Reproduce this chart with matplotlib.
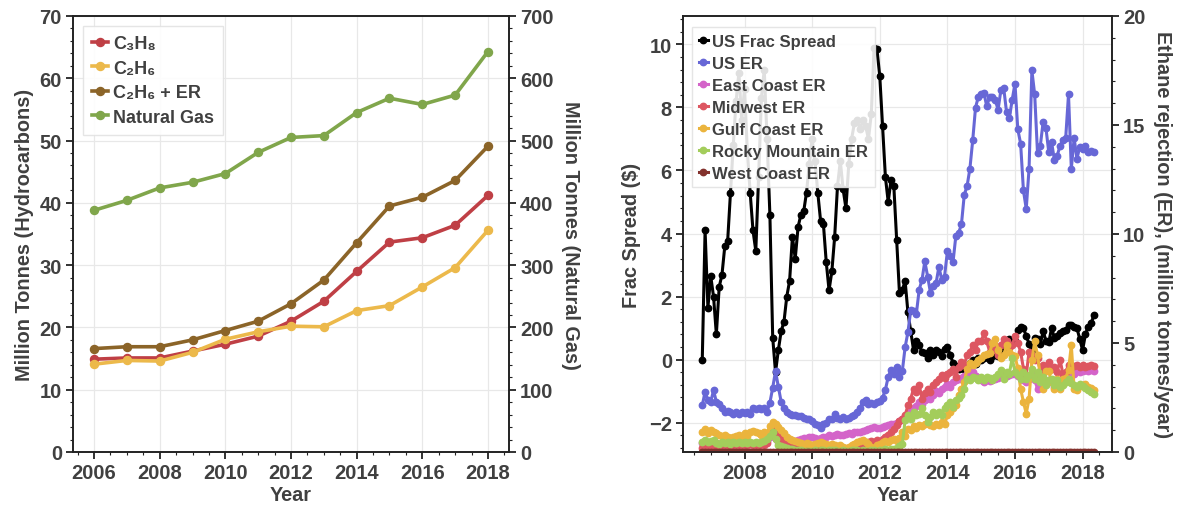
import matplotlib
matplotlib.use("Agg")
import matplotlib.pyplot as plt
from matplotlib.ticker import MultipleLocator, FuncFormatter

plt.rcParams['font.family'] = ['Liberation Sans', 'DejaVu Sans']
plt.rcParams['font.weight'] = 'bold'
TEXT = '#404040'

# ---------------- annual production (left panel) ----------------
years = [2006, 2007, 2008, 2009, 2010, 2011, 2012, 2013, 2014, 2015, 2016, 2017, 2018]
propane = [14.9, 15.1, 15.1, 16.2, 17.3, 18.6, 21.0, 24.2, 29.0, 33.7, 34.4, 36.4, 41.2]
ethane = [14.1, 14.7, 14.6, 16.0, 18.1, 19.3, 20.2, 20.1, 22.7, 23.5, 26.5, 29.6, 35.6]
ethane_er = [16.6, 16.9, 16.9, 18.0, 19.5, 21.0, 23.8, 27.6, 33.6, 39.5, 40.9, 43.6, 49.1]
natural_gas = [388, 404, 424, 433, 447, 481, 505, 508, 545, 568, 558, 573, 643]

# ---------------- monthly series, Oct 2006 - May 2018 (right panel) ----------------
first_year, first_month, n_months = 2006, 10, 140
month_pos = [first_year + (first_month - 1 + k) / 12 for k in range(n_months)]

frac_spread = [
    0.0, 4.1, 1.65,
    2.65, 2.0, 0.8, 2.3, 2.7, 3.6, 3.75, 5.3, 6.8, 8.2, 9.1, 7.6,
    8.6, 6.6, 5.3, 4.1, 3.45, 5.8, 8.3, 9.2, 7.0, 4.6, 0.7, -0.4,
    0.3, 0.9, 1.2, 2.0, 2.5, 3.9, 3.2, 4.2, 4.6, 4.7, 5.3, 6.2,
    7.0, 6.3, 5.3, 4.4, 4.3, 3.1, 2.2, 2.8, 3.9, 5.5, 6.3, 5.4,
    4.8, 6.2, 7.0, 7.5, 7.6, 7.3, 7.6, 7.4, 7.0, 7.8, 9.9, 9.85,
    9.0, 7.4, 5.8, 5.0, 5.7, 5.5, 3.8, 2.1, 2.2, 2.5, 1.5, 0.9,
    0.3, 0.6, 0.45, 0.25, 0.2, 0.05, 0.3, 0.15, 0.3, 0.25, 0.1, 0.35,
    0.4, 0.15, -0.1, -0.2, -0.3, -0.28, -0.3, -0.2, -0.1, 0.0, -0.15, 0.05,
    0.0, 0.05, 0.1, 0.0, 0.1, 0.15, 0.1, 0.2, 0.4, 0.3, 0.65, 0.55,
    0.6, 0.95, 1.05, 1.0, 0.75, 0.5, 0.3, 0.7, 0.65, 0.5, 0.9, 0.6,
    0.55, 1.0, 0.7, 0.75, 0.85, 0.9, 0.95, 1.1, 1.1, 1.05, 1.0, 0.65,
    0.3, 0.8, 1.05, 1.15, 1.4,
]

us_er = [
    2.14, 2.76, 2.37,
    2.3, 2.83, 2.3, 2.2, 2.0, 1.85, 1.9, 1.83, 1.75, 1.85, 1.75, 1.85,
    1.8, 1.85, 1.75, 2.0, 1.95, 2.0, 1.95, 2.0, 1.85, 2.25, 2.95, 3.7,
    3.0, 2.3, 2.0, 1.85, 1.75, 1.7, 1.7, 1.65, 1.65, 1.55, 1.5, 1.5,
    1.4, 1.3, 1.25, 1.1, 1.3, 1.35, 1.5, 1.5, 1.75, 1.55, 1.5, 1.6,
    1.5, 1.55, 1.65, 1.7, 1.85, 2.0, 2.3, 2.4, 2.2, 2.25, 2.2, 2.3,
    2.35, 2.5, 2.85, 3.45, 3.75, 3.6, 3.9, 3.45, 3.7, 4.8, 5.5, 6.5,
    6.45, 6.35, 7.45, 7.9, 8.75, 8.05, 7.3, 7.6, 7.75, 8.5, 7.9, 8.05,
    9.2, 9.0, 8.7, 9.9, 10.05, 10.45, 11.8, 12.2, 13.0, 14.3, 15.8, 16.3,
    16.4, 16.45, 15.85, 16.3, 16.3, 16.15, 15.7, 16.6, 16.7, 15.6, 15.3, 16.15,
    16.9, 14.8, 14.15, 12.0, 11.15, 13.0, 17.5, 16.4, 13.7, 14.05, 15.15, 14.85,
    13.75, 14.2, 13.4, 13.6, 14.05, 14.3, 14.4, 16.4, 13.0, 14.4, 13.45, 14.0,
    13.9, 14.05, 13.75, 13.8, 13.75,
]

east_coast_er = [
    0.4, 0.45, 0.4,
    0.45, 0.45, 0.4, 0.35, 0.4, 0.4, 0.4, 0.35, 0.4, 0.4, 0.4, 0.35,
    0.4, 0.4, 0.4, 0.35, 0.4, 0.4, 0.4, 0.45, 0.5, 0.7, 0.85, 0.6,
    0.45, 0.4, 0.4, 0.35, 0.4, 0.45, 0.5, 0.55, 0.6, 0.62, 0.65, 0.68,
    0.68, 0.62, 0.6, 0.65, 0.68, 0.7, 0.76, 0.72, 0.8, 0.83, 0.8, 0.8,
    0.83, 0.85, 0.83, 0.9, 0.91, 0.9, 0.95, 1.0, 1.06, 1.1, 1.14, 1.1,
    1.1, 1.15, 1.2, 1.25, 1.3, 1.3, 1.35, 1.4, 1.5, 1.6, 1.75, 1.9,
    2.0, 2.1, 2.3, 2.2, 2.4, 2.5, 2.45, 2.6, 2.8, 2.7, 2.9, 3.0,
    3.1, 3.0, 3.2, 3.3, 3.35, 3.4, 3.5, 3.6, 3.7, 3.65, 3.5, 3.4,
    3.3, 3.2, 3.3, 3.25, 3.3, 3.35, 3.4, 3.5, 3.6, 3.5, 3.55, 3.6,
    3.6, 3.5, 3.4, 3.3, 3.2, 3.35, 3.6, 3.3, 2.9, 3.0, 3.1, 3.2,
    3.3, 3.2, 3.0, 3.2, 3.3, 3.4, 3.5, 3.6, 3.5, 3.6, 3.7, 3.65,
    3.7, 3.75, 3.7, 3.75, 3.7,
]

midwest_er = [
    0.2, 0.25, 0.2,
    0.3, 0.25, 0.2, 0.25, 0.3, 0.2, 0.25, 0.2, 0.3, 0.25, 0.2, 0.3,
    0.25, 0.3, 0.35, 0.3, 0.25, 0.3, 0.35, 0.3, 0.4, 0.8, 1.14, 0.95,
    0.76, 0.6, 0.5, 0.45, 0.35, 0.3, 0.25, 0.22, 0.2, 0.2, 0.15, 0.15,
    0.15, 0.1, 0.12, 0.1, 0.15, 0.1, 0.12, 0.15, 0.1, 0.12, 0.15, 0.1,
    0.1, 0.12, 0.15, 0.2, 0.25, 0.3, 0.35, 0.4, 0.45, 0.5, 0.45, 0.55,
    0.5, 0.6, 0.7, 0.76, 0.9, 1.06, 1.22, 1.4, 1.53, 1.68, 2.14, 2.45,
    2.9, 2.76, 3.07, 2.45, 2.7, 2.9, 2.75, 3.07, 3.2, 3.37, 3.53, 3.4,
    3.6, 3.68, 3.83, 3.45, 3.9, 4.14, 4.0, 4.45, 4.6, 4.9, 4.7, 5.07,
    5.07, 5.45, 5.07, 4.6, 4.83, 4.68, 4.45, 4.9, 5.2, 5.07, 4.76, 4.9,
    5.3, 4.99, 4.6, 3.83, 3.53, 4.6, 4.45, 4.22, 4.3, 3.7, 4.0, 3.9,
    4.14, 3.83, 3.9, 3.68, 4.22, 3.6, 3.68, 3.98, 3.9, 3.95, 3.98, 3.9,
    3.98, 3.9, 3.95, 3.98, 3.95,
]

gulf_coast_er = [
    0.9, 1.05, 0.85,
    1.0, 0.9, 0.85, 0.8, 0.75, 0.8, 0.7, 0.65, 0.7, 0.75, 0.8, 0.7,
    0.85, 0.75, 0.9, 0.95, 0.9, 0.85, 0.8, 0.9, 0.85, 1.2, 1.37, 1.3,
    1.15, 1.0, 0.85, 0.7, 0.6, 0.55, 0.5, 0.45, 0.4, 0.35, 0.4, 0.35,
    0.3, 0.35, 0.4, 0.45, 0.4, 0.35, 0.3, 0.35, 0.3, 0.25, 0.3, 0.25,
    0.2, 0.25, 0.3, 0.35, 0.45, 0.5, 0.55, 0.45, 0.35, 0.25, 0.2, 0.3,
    0.35, 0.45, 0.5, 0.45, 0.55, 0.6, 0.5, 0.65, 0.9, 0.75, 1.05, 1.0,
    1.2, 1.1, 1.25, 1.2, 1.3, 1.37, 1.25, 1.2, 1.3, 1.25, 1.37, 1.3,
    1.68, 1.83, 2.0, 2.14, 2.6, 2.9, 3.22, 3.83, 4.1, 4.0, 4.07, 4.2,
    4.3, 4.45, 4.5, 4.55, 5.0, 5.2, 4.7, 4.3, 4.45, 4.9, 4.6, 4.45,
    4.4, 3.85, 2.9, 2.3, 1.76, 2.45, 4.2, 5.07, 4.45, 3.5, 2.9, 3.7,
    3.7, 3.2, 2.9, 3.35, 2.9, 3.35, 3.4, 3.75, 4.9, 2.9, 2.85, 3.05,
    3.07, 3.1, 3.0, 2.95, 2.84,
]

rocky_mountain_er = [
    0.45, 0.53, 0.45,
    0.5, 0.53, 0.4, 0.37, 0.45, 0.4, 0.45, 0.37, 0.45, 0.4, 0.45, 0.4,
    0.45, 0.4, 0.45, 0.4, 0.45, 0.4, 0.45, 0.5, 0.6, 0.75, 0.91, 0.6,
    0.3, 0.28, 0.25, 0.2, 0.15, 0.12, 0.1, 0.1, 0.08, 0.05, 0.05, 0.05,
    0.05, 0.08, 0.06, 0.1, 0.08, 0.05, 0.07, 0.1, 0.08, 0.06, 0.05, 0.08,
    0.06, 0.05, 0.08, 0.1, 0.07, 0.05, 0.08, 0.06, 0.05, 0.07, 0.08, 0.06,
    0.08, 0.1, 0.12, 0.1, 0.15, 0.12, 0.2, 0.29, 0.35, 1.45, 1.68, 1.53,
    1.83, 1.68, 1.76, 2.0, 1.68, 1.37, 1.6, 1.83, 1.68, 1.83, 1.7, 2.0,
    2.14, 2.3, 2.07, 2.37, 2.5, 2.6, 2.9, 3.37, 3.3, 3.45, 3.4, 3.3,
    3.45, 3.3, 3.45, 3.4, 3.3, 3.45, 3.6, 3.76, 3.37, 3.68, 3.6, 4.3,
    3.68, 3.53, 3.37, 3.68, 3.37, 3.53, 3.83, 3.37, 3.68, 3.22, 3.45, 3.07,
    3.3, 3.37, 3.07, 3.3, 3.0, 3.07, 3.22, 3.37, 3.15, 3.07, 3.0, 3.1,
    3.05, 2.95, 2.84, 2.75, 2.68,
]

west_coast_er = [
    0.0, 0.0, 0.0,
    0.0, 0.0, 0.0, 0.0, 0.0, 0.0, 0.0, 0.0, 0.0, 0.0, 0.0, 0.0,
    0.0, 0.0, 0.0, 0.0, 0.0, 0.0, 0.0, 0.0, 0.0, 0.0, 0.0, 0.0,
    0.0, 0.0, 0.0, 0.0, 0.0, 0.0, 0.0, 0.0, 0.0, 0.0, 0.0, 0.0,
    0.0, 0.0, 0.0, 0.0, 0.0, 0.0, 0.0, 0.0, 0.0, 0.0, 0.0, 0.0,
    0.0, 0.0, 0.0, 0.0, 0.0, 0.0, 0.0, 0.0, 0.0, 0.0, 0.0, 0.0,
    0.0, 0.0, 0.0, 0.0, 0.0, 0.0, 0.0, 0.0, 0.0, 0.0, 0.0, 0.0,
    0.0, 0.0, 0.0, 0.0, 0.0, 0.0, 0.0, 0.0, 0.0, 0.0, 0.0, 0.0,
    0.0, 0.0, 0.0, 0.0, 0.0, 0.0, 0.0, 0.0, 0.0, 0.0, 0.0, 0.0,
    0.0, 0.0, 0.0, 0.0, 0.0, 0.0, 0.0, 0.0, 0.0, 0.0, 0.0, 0.0,
    0.0, 0.0, 0.0, 0.0, 0.0, 0.0, 0.0, 0.0, 0.0, 0.0, 0.0, 0.0,
    0.0, 0.0, 0.0, 0.0, 0.0, 0.0, 0.0, 0.0, 0.0, 0.0, 0.0, 0.0,
    0.0, 0.0, 0.0, 0.0, 0.0,
]

# ---------------- colours ----------------
C_PROPANE = '#bf3f45'
C_ETHANE = '#ecb94b'
C_ETHANE_ER = '#8b6428'
C_GAS = '#80a64b'
C_FRAC = '#000000'
C_US = '#6767d6'
C_EAST = '#d464c9'
C_MIDWEST = '#dd5661'
C_GULF = '#ebb43d'
C_ROCKY = '#a3cd5b'
C_WEST = '#83322d'
GRID = '#e8e8e8'

TICK_FS = 14.5
LABEL_FS = 14.3


def style_axes(ax, twin):
    for a in (ax, twin):
        for sp in a.spines.values():
            sp.set_color('#222222')
            sp.set_linewidth(1.2)
    ax.tick_params(axis='both', which='major', direction='out', length=5, width=1.3,
                   colors='#222222', labelcolor=TEXT, labelsize=TICK_FS, pad=3)
    ax.tick_params(axis='both', which='minor', direction='out', length=2.5, width=0.8,
                   colors='#222222')
    twin.tick_params(axis='y', which='major', direction='out', length=5, width=1.3,
                     colors='#222222', labelcolor=TEXT, labelsize=TICK_FS, pad=3)
    twin.tick_params(axis='y', which='minor', direction='out', length=2.5, width=0.8,
                     colors='#222222')
    ax.grid(True, which='major', color=GRID, linewidth=0.9)
    ax.set_axisbelow(True)


def legend_box(owner, handles, labels, anchor, fs, spacing, hlen, pad):
    leg = owner.legend(handles, labels, loc='upper left', bbox_to_anchor=anchor,
                       borderaxespad=0, fontsize=fs, frameon=True, fancybox=False,
                       edgecolor='#e2e2e2', framealpha=0.88, handlelength=hlen,
                       handletextpad=0.25, borderpad=pad, labelspacing=spacing)
    for t in leg.get_texts():
        t.set_color(TEXT)
    return leg


fig = plt.figure(figsize=(11.8, 5.06), dpi=100)

# ================= left panel =================
axL = fig.add_axes([73 / 1180, 53 / 506, 436 / 1180, 436 / 506])
axLr = axL.twinx()

kw = dict(linewidth=2.6, marker='o', markersize=5.8)
axL.plot(years, propane, color=C_PROPANE, label='C\u2083H\u2088', **kw)
axL.plot(years, ethane, color=C_ETHANE, label='C\u2082H\u2086', **kw)
axL.plot(years, ethane_er, color=C_ETHANE_ER, label='C\u2082H\u2086 + ER', **kw)
axLr.plot(years, natural_gas, color=C_GAS, label='Natural Gas', **kw)

axL.set_xlim(2005.36, 2018.64)
axL.set_ylim(0, 70)
axLr.set_ylim(0, 700)
axL.xaxis.set_major_locator(MultipleLocator(2))
axL.xaxis.set_minor_locator(MultipleLocator(0.5))
axL.yaxis.set_major_locator(MultipleLocator(10))
axL.yaxis.set_minor_locator(MultipleLocator(2))
axLr.yaxis.set_major_locator(MultipleLocator(100))
axLr.yaxis.set_minor_locator(MultipleLocator(20))
style_axes(axL, axLr)

axL.set_xlabel('Year', fontsize=LABEL_FS, color=TEXT, fontweight='bold', labelpad=2)
axL.set_ylabel('Million Tonnes (Hydrocarbons)', fontsize=LABEL_FS, color=TEXT,
               fontweight='bold', labelpad=4)
axLr.set_ylabel('Million Tonnes (Natural Gas)', fontsize=LABEL_FS, color=TEXT,
                fontweight='bold', rotation=270, labelpad=19)

hL = axL.get_legend_handles_labels()
hR = axLr.get_legend_handles_labels()
legend_box(axLr, hL[0] + hR[0], hL[1] + hR[1], (0.023, 0.977), 13, 0.42, 0.9, 0.5)

# ================= right panel =================
axR = fig.add_axes([683 / 1180, 53 / 506, 429 / 1180, 436 / 506])
axRr = axR.twinx()

kw2 = dict(linewidth=2.2, marker='o', markersize=4.6)
axR.plot(month_pos, frac_spread, color=C_FRAC, label='US Frac Spread', zorder=3, **kw2)
axRr.plot(month_pos, us_er, color=C_US, label='US ER', **kw2)
axRr.plot(month_pos, east_coast_er, color=C_EAST, label='East Coast ER', **kw2)
axRr.plot(month_pos, midwest_er, color=C_MIDWEST, label='Midwest ER', **kw2)
axRr.plot(month_pos, gulf_coast_er, color=C_GULF, label='Gulf Coast ER', **kw2)
axRr.plot(month_pos, rocky_mountain_er, color=C_ROCKY, label='Rocky Mountain ER', **kw2)
axRr.plot(month_pos, west_coast_er, color=C_WEST, label='West Coast ER', **kw2)

axR.set_xlim(2006.18, 2018.87)
axR.set_ylim(-2.93, 10.9)
axRr.set_ylim(0, 20)
axR.xaxis.set_major_locator(MultipleLocator(2))
axR.xaxis.set_minor_locator(MultipleLocator(0.5))
axR.yaxis.set_major_locator(MultipleLocator(2))
axR.yaxis.set_minor_locator(MultipleLocator(0.4))
axRr.yaxis.set_major_locator(MultipleLocator(5))
axRr.yaxis.set_minor_locator(MultipleLocator(1))
style_axes(axR, axRr)
axR.yaxis.set_major_formatter(FuncFormatter(
    lambda v, p: ('\u2212%d' % abs(v)) if v < 0 else '%d' % v))

axR.set_xlabel('Year', fontsize=LABEL_FS, color=TEXT, fontweight='bold', labelpad=2)
axR.set_ylabel('Frac Spread ($)', fontsize=LABEL_FS, color=TEXT, fontweight='bold',
               labelpad=6)
axRr.set_ylabel('Ethane rejection (ER), (million tonnes/year)', fontsize=LABEL_FS,
                color=TEXT, fontweight='bold', rotation=270, labelpad=19)

h1 = axR.get_legend_handles_labels()
h2 = axRr.get_legend_handles_labels()
legend_box(axRr, h1[0] + h2[0], h1[1] + h2[1], (0.021, 0.975), 12, 0.42, 0.55, 0.4)

fig.savefig('out.png', dpi=100)
